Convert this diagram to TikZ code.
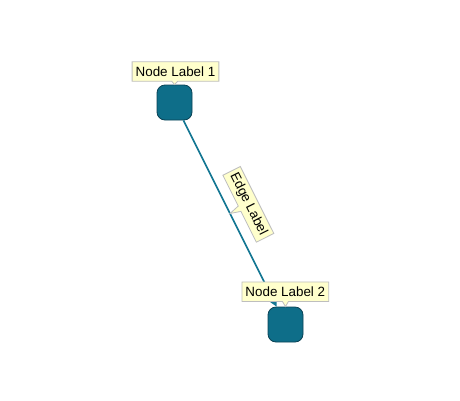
\documentclass[tikz,border=0pt]{standalone}
\usepackage{fontspec}
\setmainfont{Liberation Sans}
\usetikzlibrary{shapes.callouts,arrows.meta,calc}
\definecolor{nodefill}{RGB}{14,110,137}
\definecolor{nodeborder}{RGB}{10,66,84}
\definecolor{edgecol}{RGB}{22,120,148}
\definecolor{labfill}{RGB}{255,255,204}
\definecolor{labborder}{RGB}{190,190,190}
\tikzset{
  nd/.style={draw=nodeborder, fill=nodefill, rounded corners=8pt, minimum width=35pt, minimum height=35pt, line width=0.8pt, inner sep=0pt},
  lab/.style={rectangle callout, draw=labborder, fill=labfill, line width=0.8pt, font=\fontsize{13.4}{15}\selectfont, inner xsep=3.5pt, inner ysep=0pt, minimum height=19.5pt, callout pointer width=6pt, text=black},
  edg/.style={draw=edgecol, line width=1.6pt, -{Triangle[length=7pt,width=7pt]}},
}
\begin{document}
\begin{tikzpicture}[x=1pt,y=1pt]
\useasboundingbox (0,0) rectangle (460,-400);
\node[nd] (n1) at (174.5,-102.5) {};
\node[nd] (n2) at (285.5,-324.5) {};
\draw[edg] (n1) -- (n2);
\path (n1.center) -- (n2.center) coordinate[pos=0.5] (m);
\begin{scope}[shift={(m)}, rotate=-63.43]
  \node[lab, transform shape, callout absolute pointer={(0,0)}] (el) at (0,20.5) {Edge Label};
\end{scope}
\node[lab, callout absolute pointer={(n1.north)}] (l1) at (175.5,-71.5) {Node Label 1};
\node[lab, callout absolute pointer={(n2.north)}] (l2) at (285.3,-291.7) {Node Label 2};
\end{tikzpicture}
\end{document}
